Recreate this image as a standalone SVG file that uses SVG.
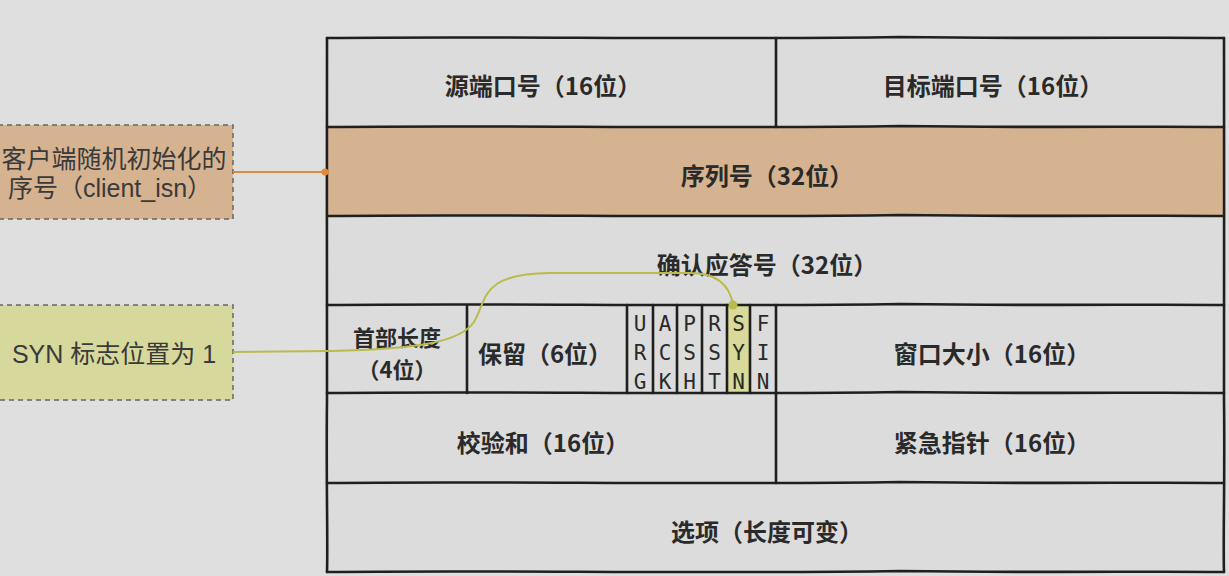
<svg xmlns="http://www.w3.org/2000/svg" width="1229" height="576" viewBox="0 0 1229 576">
<style>
.cell{fill:#dcdcdc;stroke:none}
.ln{stroke:#1f1f1f;stroke-width:2.6;fill:none;stroke-linecap:round;stroke-linejoin:round}
.t{font-family:"Noto Sans CJK SC","Noto Sans",sans-serif;font-weight:bold;font-size:24px;fill:#2a2a2a;text-anchor:middle;dominant-baseline:central}
.s{font-size:22px}
.f{font-family:"DejaVu Sans Mono","Liberation Mono",monospace;font-size:21px;fill:#2a2a2a;text-anchor:middle;dominant-baseline:central}
.note{font-family:"Liberation Sans","Noto Sans CJK SC",sans-serif;font-size:25px;fill:#3a3a3a;text-anchor:middle;dominant-baseline:central}
.nbox{stroke:#666;stroke-width:1.5;stroke-dasharray:5 4}
</style>
<rect x="0" y="0" width="1229" height="576" fill="#dfdfdf"/>

<g id="table">
  <rect class="cell" x="327" y="38" width="897" height="534"/>
  <rect x="327" y="127" width="897" height="89" fill="#d5b290"/>
  <rect x="727" y="305" width="22" height="88" fill="#d9da9a"/>
</g>

<g id="grid">
  <path class="ln" d="M327,38 C500,36 700,40 900,37 C1050,39 1150,37 1224,38"/>
  <path class="ln" d="M327,127 C500,125 700,129 900,126 C1050,128 1150,126 1224,127"/>
  <path class="ln" d="M327,216 C500,214 700,218 900,215 C1050,217 1150,215 1224,216"/>
  <path class="ln" d="M327,305 C500,303 700,307 900,304 C1050,306 1150,304 1224,305"/>
  <path class="ln" d="M327,393 C500,391 700,395 900,392 C1050,394 1150,392 1224,393"/>
  <path class="ln" d="M327,483 C500,481 700,485 900,482 C1050,484 1150,482 1224,483"/>
  <path class="ln" d="M327,572 C500,570 700,574 900,571 C1050,573 1150,571 1224,572"/>
  <path class="ln" d="M327,38 C326,150 328,300 327,400 C326,480 328,540 327,572"/>
  <path class="ln" d="M1224,38 C1225,150 1223,300 1224,400 C1225,480 1223,540 1224,572"/>
  <line class="ln" x1="776" y1="38" x2="776" y2="127"/>
  <line class="ln" x1="776" y1="305" x2="776" y2="393"/>
  <line class="ln" x1="776" y1="393" x2="776" y2="483"/>
  <line class="ln" x1="467" y1="305" x2="467" y2="393"/>
  <line class="ln" x1="627" y1="305" x2="627" y2="393"/>
  <line class="ln" x1="653" y1="305" x2="653" y2="393"/>
  <line class="ln" x1="677" y1="305" x2="677" y2="393"/>
  <line class="ln" x1="702" y1="305" x2="702" y2="393"/>
  <line class="ln" x1="727" y1="305" x2="727" y2="393"/>
  <line class="ln" x1="750" y1="305" x2="750" y2="393"/>
</g>

<g id="src-port"><text class="t" x="543" y="84">源端口号（16位）</text></g>
<g id="dst-port"><text class="t" x="993" y="84">目标端口号（16位）</text></g>
<g id="seq"><text class="t" x="767" y="174">序列号（32位）</text></g>
<g id="ack"><text class="t" x="767" y="263">确认应答号（32位）</text></g>
<g id="hlen"><text class="t s" x="397" y="336">首部长度</text><text class="t s" x="397" y="368">（4位）</text></g>
<g id="reserved"><text class="t" x="545" y="352">保留（6位）</text></g>
<g id="flags">
  <text class="f" x="640" y="324">U</text><text class="f" x="640" y="353">R</text><text class="f" x="640" y="382">G</text>
  <text class="f" x="665" y="324">A</text><text class="f" x="665" y="353">C</text><text class="f" x="665" y="382">K</text>
  <text class="f" x="689.5" y="324">P</text><text class="f" x="689.5" y="353">S</text><text class="f" x="689.5" y="382">H</text>
  <text class="f" x="714.5" y="324">R</text><text class="f" x="714.5" y="353">S</text><text class="f" x="714.5" y="382">T</text>
  <text class="f" x="738.5" y="324">S</text><text class="f" x="738.5" y="353">Y</text><text class="f" x="738.5" y="382">N</text>
  <text class="f" x="763" y="324">F</text><text class="f" x="763" y="353">I</text><text class="f" x="763" y="382">N</text>
</g>
<g id="window"><text class="t" x="992" y="352">窗口大小（16位）</text></g>
<g id="checksum"><text class="t" x="543" y="441">校验和（16位）</text></g>
<g id="urgent"><text class="t" x="992" y="441">紧急指针（16位）</text></g>
<g id="options"><text class="t" x="767" y="530">选项（长度可变）</text></g>

<g id="note-isn">
  <rect class="nbox" x="-2" y="125" width="235" height="94" fill="#d5b290"/>
  <text class="note" x="114" y="159">客户端随机初始化的</text>
  <text class="note" x="110" y="188">序号（client_isn）</text>
</g>
<g id="note-syn">
  <rect class="nbox" x="-2" y="305" width="235" height="95" fill="#d6d89c"/>
  <text class="note" x="114" y="354">SYN 标志位置为 1</text>
</g>

<g id="connectors">
  <line x1="233" y1="172" x2="324" y2="172" stroke="#e08a3c" stroke-width="2"/>
  <circle cx="325" cy="172" r="3.5" fill="#e08a3c"/>
  <path d="M233,352 L330,351 C420,349 460,342 474,322 C488,298 480,274 550,273 L690,273 C718,273 730,286 733,305" fill="none" stroke="#b9bb4c" stroke-width="2"/>
  <circle cx="733" cy="305" r="4.5" fill="#b9bb4c"/>
</g>
</svg>
